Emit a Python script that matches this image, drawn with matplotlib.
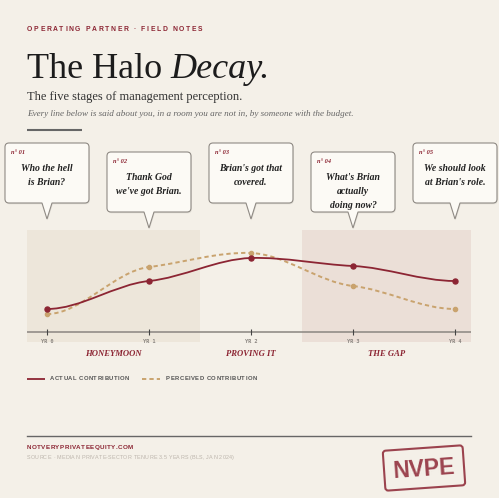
import matplotlib
matplotlib.use("Agg")
import matplotlib.pyplot as plt
from matplotlib.path import Path
from matplotlib.patches import PathPatch, FancyBboxPatch
from matplotlib.font_manager import FontProperties
from matplotlib.transforms import Affine2D

# ---- data ----
years = [0, 1, 2, 3, 4]
year_labels = ["YR 0", "YR 1", "YR 2", "YR 3", "YR 4"]
actual = [23, 51, 74, 66, 51]
perceived = [18, 65, 79, 46, 23]

stage_names = ["HONEYMOON", "PROVING IT", "THE GAP"]
stage_bounds = [1.5, 2.5]          # year where one stage hands over to the next
stage_shaded = [True, False, True]

quote_tags = ["n° 01", "n° 02", "n° 03", "n° 04", "n° 05"]
quotes = [
    "Who the hell\nis Brian?",
    "Thank God\nwe've got Brian.",
    "Brian's got that\ncovered.",
    "What's Brian\nactually\ndoing now?",
    "We should look\nat Brian's role.",
]

# ---- style ----
BG = "#f4f0e8"
RED = "#8c2533"
TAN = "#c9a36e"
PANEL = ["#ede6da", None, "#ebdfd7"]
INK = "#222222"
SERIF = "Liberation Serif"
SANS = "Liberation Sans"

W, H = 499, 498
fig = plt.figure(figsize=(W / 100, H / 100), dpi=100, facecolor=BG)

# chart axes (pixel box 27..471 x 230..342)
ax = fig.add_axes([27 / W, (H - 342) / H, 444 / W, 112 / H])
ax.set_xlim(-0.196, 4.157)
ax.set_ylim(-10, 102)
ax.axis("off")

# overlay in pixel coordinates, y going down
ov = fig.add_axes([0, 0, 1, 1])
ov.set_xlim(0, W)
ov.set_ylim(H, 0)
ov.axis("off")
ov.patch.set_alpha(0)

renderer = fig.canvas.get_renderer()


def to_px(xv, yv=0):
    dx, dy = ax.transData.transform((xv, yv))
    return dx, H - dy


# stage panels and labels
x0, x1 = ax.get_xlim()
edges = [x0] + stage_bounds + [x1]
for i, name in enumerate(stage_names):
    if stage_shaded[i]:
        ax.axvspan(edges[i], edges[i + 1], color=PANEL[i], lw=0, zorder=0)
    ax.text((edges[i] + edges[i + 1]) / 2, -22, name, ha="center", va="center",
            family=SERIF, style="italic", weight="bold", fontsize=6.2,
            color=RED, clip_on=False)

# baseline + ticks
ax.axhline(0, color="#8a8580", lw=1.1, zorder=1)
ax.plot(years, [0] * len(years), ls="none", marker="|", ms=4, mew=0.8,
        color="#444444", zorder=2)
for yr, lab in zip(years, year_labels):
    ax.text(yr, -9.3, lab, ha="center", va="center", family="DejaVu Sans Mono",
            fontsize=3.8, weight="bold", color="#8a8580")


def smooth_path(xs, ys, k=0.4):
    n = len(xs)
    m = [0.0] * n
    for i in range(1, n - 1):
        m[i] = k * (ys[i + 1] - ys[i - 1]) / (xs[i + 1] - xs[i - 1])
    verts = [(xs[0], ys[0])]
    codes = [Path.MOVETO]
    for i in range(n - 1):
        h = xs[i + 1] - xs[i]
        verts += [(xs[i] + h / 3, ys[i] + m[i] * h / 3),
                  (xs[i + 1] - h / 3, ys[i + 1] - m[i + 1] * h / 3),
                  (xs[i + 1], ys[i + 1])]
        codes += [Path.CURVE4] * 3
    return Path(verts, codes)


ax.add_patch(PathPatch(smooth_path(years, perceived), fill=False, ec=TAN, lw=1.4,
                       ls=(0, (2.2, 1.6)), zorder=3))
ax.add_patch(PathPatch(smooth_path(years, actual), fill=False, ec=RED, lw=1.3,
                       zorder=4))
ax.plot(years, perceived, ls="none", marker="o", ms=3.0, color=TAN, zorder=5)
ax.plot(years, actual, ls="none", marker="o", ms=3.6, color=RED, zorder=6)


# ---- speech bubbles ----
def bubble_path(l, t, w, h, cx, tip, r=4, hw=5):
    b, rr = t + h, l + w
    verts = [(l + r, t), (rr - r, t), (rr, t), (rr, t + r), (rr, b - r), (rr, b),
             (rr - r, b), (cx + hw, b), (cx, tip), (cx - hw, b), (l + r, b),
             (l, b), (l, b - r), (l, t + r), (l, t), (l + r, t), (l + r, t)]
    codes = [Path.MOVETO, Path.LINETO, Path.CURVE3, Path.CURVE3, Path.LINETO,
             Path.CURVE3, Path.CURVE3, Path.LINETO, Path.LINETO, Path.LINETO,
             Path.LINETO, Path.CURVE3, Path.CURVE3, Path.LINETO, Path.CURVE3,
             Path.CURVE3, Path.CLOSEPOLY]
    return Path(verts, codes)


for i, (yr, tag, q) in enumerate(zip(years, quote_tags, quotes)):
    cx, _ = to_px(yr)
    top = 143 if i % 2 == 0 else 152
    bw, bh = 84, 60
    left = cx - bw / 2
    p = bubble_path(left, top, bw, bh, cx, top + bh + 16)
    shadow = PathPatch(p, fc=(0, 0, 0, 0.07), ec="none",
                       transform=Affine2D().translate(0.8, 1.3) + ov.transData)
    ov.add_patch(shadow)
    ov.add_patch(PathPatch(p, fc="#fcfaf5", ec="#8f8a84", lw=0.8))
    ov.text(left + 6.5, top + 9.5, tag, family=SERIF, style="italic",
            weight="bold", fontsize=4.6, color=RED, va="center", ha="left")
    for j, line in enumerate(q.split("\n")):
        ov.text(cx, top + 25 + 14.3 * j, line, family=SERIF, style="italic",
                weight="bold", fontsize=7, color=INK, ha="center", va="center")


# ---- letter-spaced labels ----
def text_w(s, prop):
    w, _, _ = renderer.get_text_width_height_descent(s, prop, ismath=False)
    return w


def tracked(x, y, s, size, end_x, color, weight="bold", family=SANS):
    prop = FontProperties(family=family, weight=weight, size=size)
    base = text_w("HH", prop)
    adv = [text_w("H" + c + "H", prop) - base for c in s]
    natural = sum(adv[:-1]) + text_w(s[-1], prop)
    track = (end_x - x - natural) / max(len(s) - 1, 1)
    for c, a in zip(s, adv):
        if c != " ":
            ov.text(x, y, c, fontproperties=prop, color=color, ha="left",
                    va="center")
        x += a + track


# header
tracked(27, 29.3, "OPERATING PARTNER · FIELD NOTES", 4.9, 202, RED)
t1 = ov.text(27, 78.3, "The Halo", family=SERIF, fontsize=26, color="#1c1c1c",
             va="baseline", ha="left")
bb = t1.get_window_extent(renderer)
ov.text(bb.x1 + 8, 78.3, "Decay.", family=SERIF, style="italic", fontsize=26,
        color="#1c1c1c", va="baseline", ha="left")
ov.text(27, 97.3, "The five stages of management perception.", family=SERIF,
        fontsize=9, color="#333333", va="center", ha="left")
ov.text(27, 114.3, "Every line below is said about you, in a room you are not in, "
        "by someone with the budget.", family=SERIF, style="italic", fontsize=6.6,
        color="#666666", va="center", ha="left")
ov.plot([27, 82], [130, 130], color="#666666", lw=1.5, solid_capstyle="butt")

# legend
ov.plot([27, 45], [378.7, 378.7], color=RED, lw=1.3, solid_capstyle="butt")
tracked(50, 378.7, "ACTUAL CONTRIBUTION", 4.2, 129, "#555555")
ov.plot([142, 160], [378.7, 378.7], color=TAN, lw=1.4, ls=(0, (2.2, 1.6)))
tracked(166, 378.7, "PERCEIVED CONTRIBUTION", 4.2, 257, "#555555")

# footer
ov.plot([27, 471], [436.3, 436.3], color="#666666", lw=1.0)
tracked(27, 447, "NOTVERYPRIVATEEQUITY.COM", 4.5, 133, RED)
tracked(27, 457.3, "SOURCE · MEDIAN PRIVATE-SECTOR TENURE 3.5 YEARS (BLS, JAN 2024)",
        3.9, 234, "#bdb6ad", weight="normal")

# stamp
scx, scy = 424, 468
stamp = FancyBboxPatch((scx - 40, scy - 20), 80, 40,
                       boxstyle="round,pad=0,rounding_size=3", fc="none",
                       ec=RED, lw=1.5, alpha=0.85,
                       transform=Affine2D().rotate_deg_around(scx, scy, -4)
                       + ov.transData)
ov.add_patch(stamp)
ov.text(scx, scy + 1, "NVPE", family=SANS, weight="bold", fontsize=16.5,
        color=RED, alpha=0.85, ha="center", va="center", rotation=4,
        rotation_mode="anchor")

fig.savefig("out.png", dpi=100, facecolor=BG)
